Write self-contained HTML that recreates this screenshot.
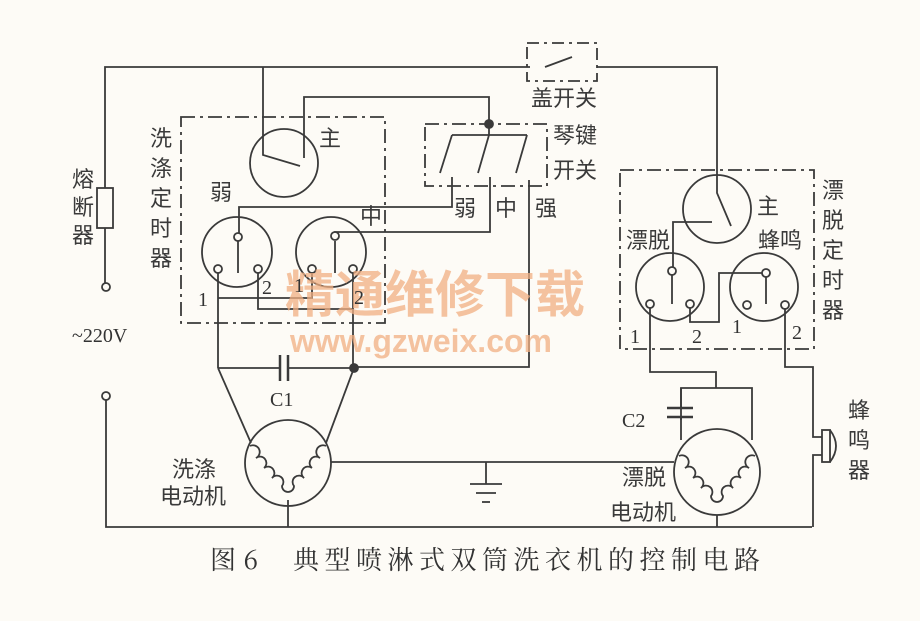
<!DOCTYPE html>
<html><head><meta charset="utf-8"><style>
body{margin:0;background:#fdfbf6;}
svg{display:block}
text{font-family:"Liberation Serif","Noto Serif CJK SC","Noto Sans CJK SC",serif;fill:#333}
.c{font-family:"Noto Sans CJK SC","WenQuanYi Zen Hei",sans-serif;font-size:22px;fill:#3a3a3a}
</style></head><body>
<svg width="920" height="621" viewBox="0 0 920 621" xmlns="http://www.w3.org/2000/svg">
<rect width="920" height="621" fill="#fdfbf6"/>
<g stroke="#3a3a3a" stroke-width="1.8" fill="none">
<polyline points="105,287 105,67 530,67"/>
<polyline points="597,67 717,67 717,193 731,226"/>
<rect x="527" y="43" width="70" height="38" stroke-dasharray="12,5,3,5"/>
<line x1="545" y1="67" x2="572" y2="57"/>
<rect x="97" y="188" width="16" height="40" fill="#fdfbf6"/>
<circle cx="106" cy="287" r="4" fill="#fdfbf6"/>
<circle cx="106" cy="396" r="4" fill="#fdfbf6"/>
<polyline points="106,400 106,527 812,527"/>
<rect x="181" y="117" width="204" height="206" stroke-dasharray="14,5,3,5"/>
<circle cx="284" cy="163" r="34"/>
<polyline points="263,67 263,155 300,166"/>
<polyline points="304,158 304,97 489,97 489,124"/>
<circle cx="489" cy="124" r="4" fill="#3a3a3a"/>
<rect x="425" y="124" width="122" height="62" stroke-dasharray="14,5,3,5"/>
<polyline points="452,135 527,135"/>
<line x1="489" y1="124" x2="489" y2="135"/>
<line x1="452" y1="135" x2="440" y2="173"/>
<line x1="489" y1="135" x2="478" y2="173"/>
<line x1="527" y1="135" x2="516" y2="173"/>
<polyline points="452,177 452,207 239,207 239,236"/>
<polyline points="490,177 490,232 335,232 335,236"/>
<polyline points="529,180 529,367 354,367"/>
<circle cx="237" cy="252" r="35"/>
<circle cx="331" cy="252" r="35"/>
<line x1="238" y1="241" x2="238" y2="273"/>
<line x1="335" y1="241" x2="335" y2="273"/>
<circle cx="238" cy="237" r="4" fill="#fdfbf6"/>
<circle cx="218" cy="269" r="4" fill="#fdfbf6"/>
<circle cx="258" cy="269" r="4" fill="#fdfbf6"/>
<circle cx="335" cy="236" r="4" fill="#fdfbf6"/>
<circle cx="312" cy="269" r="4" fill="#fdfbf6"/>
<circle cx="353" cy="269" r="4" fill="#fdfbf6"/>
<polyline points="218,273 218,368"/>
<polyline points="218,298 312,298 312,273"/>
<polyline points="258,273 258,309 353,309"/>
<polyline points="353,273 353,368"/>
<line x1="218" y1="368" x2="280" y2="368"/>
<line x1="288" y1="368" x2="354" y2="368"/>
<line x1="280" y1="355" x2="280" y2="381" stroke-width="2.5"/>
<line x1="288" y1="355" x2="288" y2="381" stroke-width="2.5"/>
<circle cx="354" cy="368" r="4" fill="#3a3a3a"/>
<circle cx="288" cy="463" r="43"/>
<line x1="218" y1="368" x2="251" y2="443"/>
<line x1="354" y1="368" x2="326" y2="443"/>
<path d="M250,446 a6,6 0 0 1 6,12 a6,6 0 0 1 8,10 a6,6 0 0 1 8,10 a6,6 0 0 1 10,8 a6,6 0 0 0 12,0 a6,6 0 0 1 10,-8 a6,6 0 0 1 8,-10 a6,6 0 0 1 8,-10 a6,6 0 0 1 6,-12"/>
<line x1="288" y1="500" x2="288" y2="527"/>
<line x1="331" y1="462" x2="674" y2="462"/>
<line x1="486" y1="462" x2="486" y2="484"/>
<line x1="470" y1="484" x2="502" y2="484"/>
<line x1="476" y1="493" x2="496" y2="493"/>
<line x1="482" y1="502" x2="490" y2="502"/>
<rect x="620" y="170" width="194" height="179" stroke-dasharray="14,5,3,5"/>
<circle cx="717" cy="209" r="34"/>
<polyline points="712,222 673,222 673,268"/>
<circle cx="670" cy="287" r="34"/>
<circle cx="764" cy="287" r="34"/>
<line x1="672" y1="275" x2="672" y2="304"/>
<line x1="766" y1="277" x2="766" y2="304"/>
<circle cx="672" cy="271" r="4" fill="#fdfbf6"/>
<circle cx="650" cy="304" r="4" fill="#fdfbf6"/>
<circle cx="690" cy="304" r="4" fill="#fdfbf6"/>
<circle cx="766" cy="273" r="4" fill="#fdfbf6"/>
<circle cx="747" cy="305" r="4" fill="#fdfbf6"/>
<circle cx="785" cy="305" r="4" fill="#fdfbf6"/>
<polyline points="690,308 690,322 719,322 719,273 762,273"/>
<polyline points="650,308 650,372 716,372 716,388"/>
<polyline points="681,420 681,388 752,388 752,440"/>
<line x1="667" y1="408" x2="693" y2="408" stroke-width="2.5"/>
<line x1="667" y1="417" x2="693" y2="417" stroke-width="2.5"/>
<line x1="681" y1="388" x2="681" y2="408"/>
<line x1="681" y1="417" x2="681" y2="440"/>
<circle cx="717" cy="472" r="43"/>
<path d="M679,456 a6,6 0 0 1 6,12 a6,6 0 0 1 8,10 a6,6 0 0 1 8,10 a6,6 0 0 1 10,8 a6,6 0 0 0 12,0 a6,6 0 0 1 10,-8 a6,6 0 0 1 8,-10 a6,6 0 0 1 8,-10 a6,6 0 0 1 6,-12"/>
<line x1="717" y1="515" x2="717" y2="527"/>
<polyline points="785,309 785,367 813,367 813,437 822,437"/>
<polyline points="822,455 813,455 813,527"/>
<rect x="822" y="430" width="8" height="32"/>
<path d="M830,430 q12,16 0,32"/>
</g>
<text x="285" y="312" font-size="50" font-weight="bold" style="fill:#f2b083;opacity:0.75;font-family:'Noto Sans CJK SC',sans-serif">精通维修下载</text>
<text x="290" y="352" font-size="32" font-weight="bold" style="fill:#f2b083;opacity:0.75;font-family:'Liberation Sans',sans-serif">www.gzweix.com</text>
<g class="c">
<text class="c" x="531" y="106">盖开关</text>
<text class="c" x="553" y="143">琴键</text>
<text class="c" x="553" y="178">开关</text>
<text class="c" x="454" y="216">弱</text>
<text class="c" x="495" y="216">中</text>
<text class="c" x="535" y="216">强</text>
<text class="c" x="319" y="146">主</text>
<text class="c" x="210" y="200">弱</text>
<text class="c" x="360" y="224">中</text>
<text class="c" x="757" y="214">主</text>
<text class="c" x="626" y="248">漂脱</text>
<text class="c" x="758" y="248">蜂鸣</text>
<text class="c" x="172" y="477">洗涤</text>
<text class="c" x="160" y="504">电动机</text>
<text class="c" x="622" y="485">漂脱</text>
<text class="c" x="610" y="520">电动机</text>
</g>
<g class="c">
<text class="c" x="72" y="187">熔</text><text class="c" x="72" y="215">断</text><text class="c" x="72" y="243">器</text>
<text class="c" x="150" y="146">洗</text><text class="c" x="150" y="176">涤</text><text class="c" x="150" y="206">定</text><text class="c" x="150" y="236">时</text><text class="c" x="150" y="266">器</text>
<text class="c" x="822" y="198">漂</text><text class="c" x="822" y="228">脱</text><text class="c" x="822" y="258">定</text><text class="c" x="822" y="288">时</text><text class="c" x="822" y="318">器</text>
<text class="c" x="848" y="418">蜂</text><text class="c" x="848" y="448">鸣</text><text class="c" x="848" y="478">器</text>
</g>
<g font-size="20">
<text x="198" y="306">1</text><text x="262" y="294">2</text><text x="294" y="292">1</text><text x="354" y="304">2</text>
<text x="630" y="343">1</text><text x="692" y="343">2</text><text x="732" y="333">1</text><text x="792" y="339">2</text>
<text x="270" y="406">C1</text><text x="622" y="427">C2</text>
<text x="72" y="342">~220V</text>
</g>
<text x="210" y="569" font-size="26" textLength="48" lengthAdjust="spacing" style="font-family:'Noto Serif CJK SC','Liberation Serif',serif">图 6</text>
<text x="293" y="569" font-size="26" textLength="467" lengthAdjust="spacing" style="font-family:'Noto Serif CJK SC','Liberation Serif',serif">典型喷淋式双筒洗衣机的控制电路</text>
</svg>
</body></html>
